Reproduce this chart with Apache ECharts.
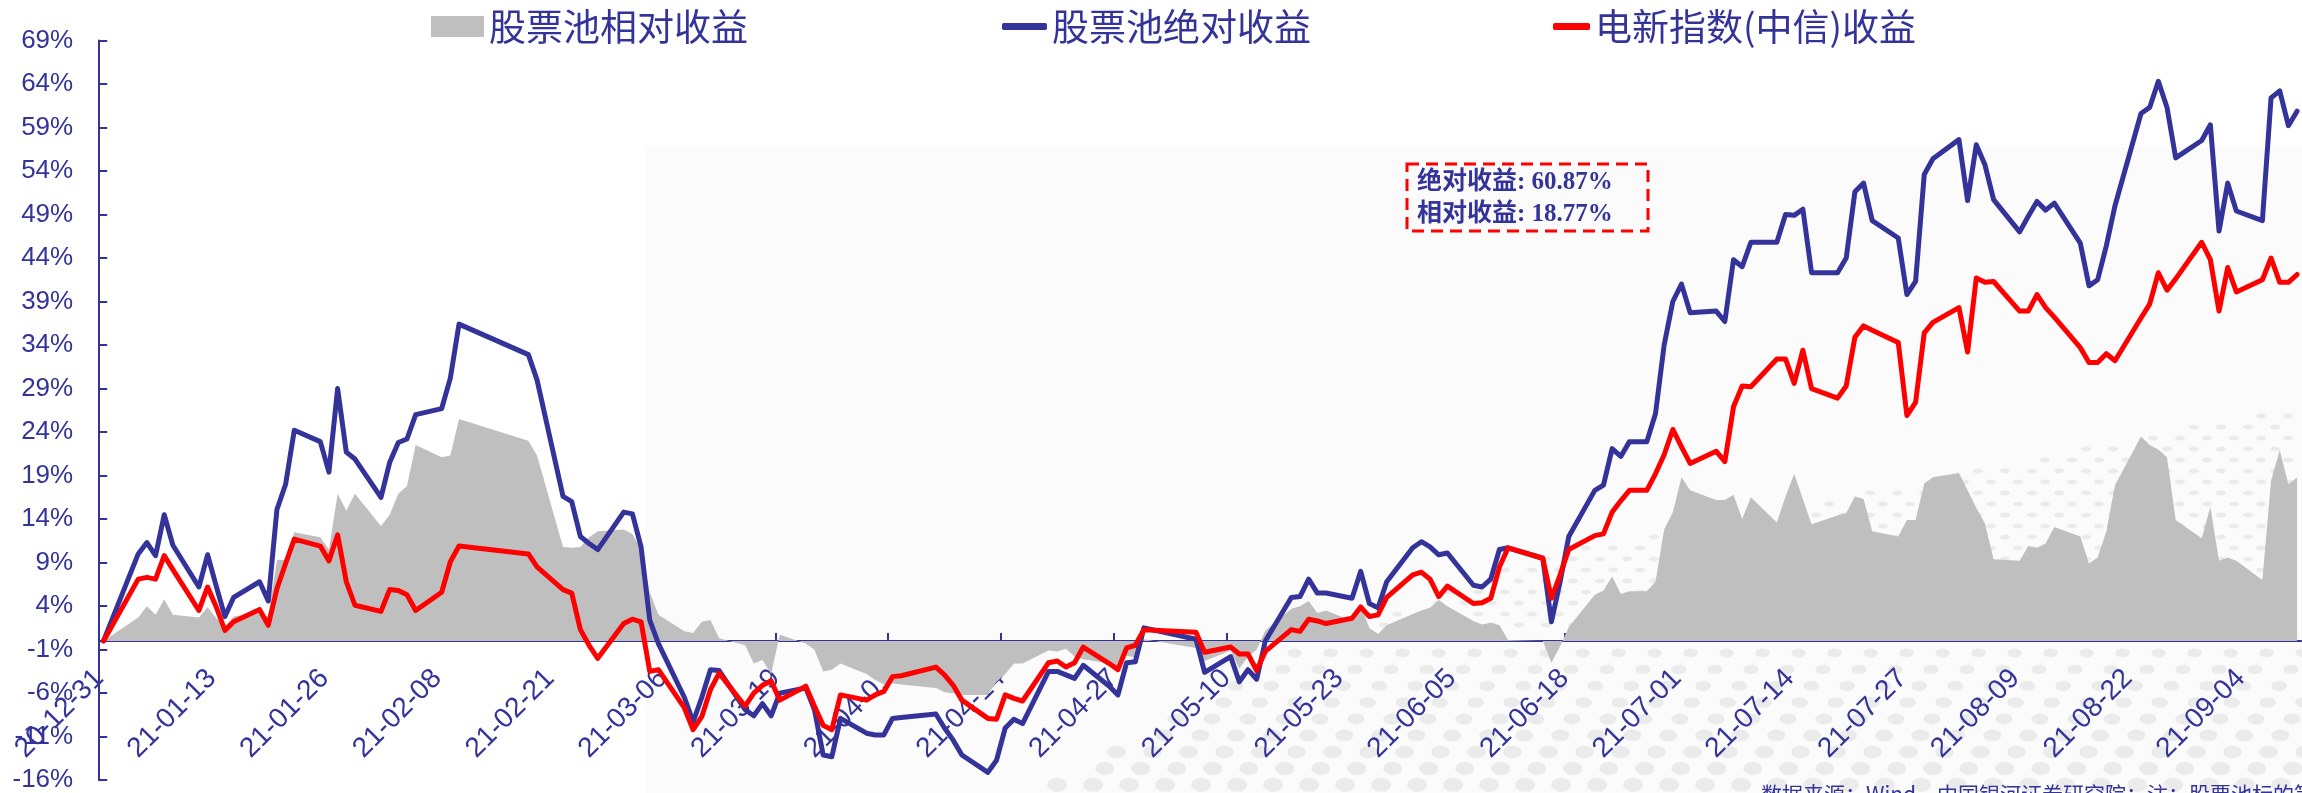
<!DOCTYPE html>
<html>
<head>
<meta charset="utf-8">
<script src="https://cdn.jsdelivr.net/npm/echarts@6/dist/echarts.min.js"></script>
<style>
html,body{margin:0;padding:0;background:#ffffff;}
#chart{width:2302px;height:793px;}
</style>
</head>
<body>
<div id="chart"></div>
<script>
// ---------- data ----------
const seriesNames = ['股票池相对收益', '股票池绝对收益', '电新指数(中信)收益'];

const dates = [
  '2020-12-31',
  '2021-01-04','2021-01-05','2021-01-06','2021-01-07','2021-01-08',
  '2021-01-11','2021-01-12','2021-01-13','2021-01-14','2021-01-15',
  '2021-01-18','2021-01-19','2021-01-20','2021-01-21','2021-01-22',
  '2021-01-25','2021-01-26','2021-01-27','2021-01-28','2021-01-29',
  '2021-02-01','2021-02-02','2021-02-03','2021-02-04','2021-02-05',
  '2021-02-08','2021-02-09','2021-02-10',
  '2021-02-18','2021-02-19',
  '2021-02-22','2021-02-23','2021-02-24','2021-02-25','2021-02-26',
  '2021-03-01','2021-03-02','2021-03-03','2021-03-04','2021-03-05',
  '2021-03-08','2021-03-09','2021-03-10','2021-03-11','2021-03-12',
  '2021-03-15','2021-03-16','2021-03-17','2021-03-18','2021-03-19',
  '2021-03-22','2021-03-23','2021-03-24','2021-03-25','2021-03-26',
  '2021-03-29','2021-03-30','2021-03-31','2021-04-01','2021-04-02',
  '2021-04-06','2021-04-07','2021-04-08','2021-04-09',
  '2021-04-12','2021-04-13','2021-04-14','2021-04-15','2021-04-16',
  '2021-04-19','2021-04-20','2021-04-21','2021-04-22','2021-04-23',
  '2021-04-26','2021-04-27','2021-04-28','2021-04-29','2021-04-30',
  '2021-05-06','2021-05-07',
  '2021-05-10','2021-05-11','2021-05-12','2021-05-13','2021-05-14',
  '2021-05-17','2021-05-18','2021-05-19','2021-05-20','2021-05-21',
  '2021-05-24','2021-05-25','2021-05-26','2021-05-27','2021-05-28',
  '2021-05-31','2021-06-01','2021-06-02','2021-06-03','2021-06-04',
  '2021-06-07','2021-06-08','2021-06-09','2021-06-10','2021-06-11',
  '2021-06-15','2021-06-16','2021-06-17','2021-06-18',
  '2021-06-21','2021-06-22','2021-06-23','2021-06-24','2021-06-25','2021-06-27',
  '2021-06-28','2021-06-29','2021-06-30','2021-07-01','2021-07-02',
  '2021-07-05','2021-07-06','2021-07-07','2021-07-08','2021-07-09',
  '2021-07-12','2021-07-13','2021-07-14','2021-07-15','2021-07-16',
  '2021-07-19','2021-07-20','2021-07-21','2021-07-22','2021-07-23',
  '2021-07-26','2021-07-27','2021-07-28','2021-07-29','2021-07-30',
  '2021-08-02','2021-08-03','2021-08-04','2021-08-05','2021-08-06',
  '2021-08-09','2021-08-10','2021-08-11','2021-08-12','2021-08-13',
  '2021-08-16','2021-08-17','2021-08-18','2021-08-19','2021-08-20',
  '2021-08-23','2021-08-24','2021-08-25','2021-08-26','2021-08-27',
  '2021-08-30','2021-08-31','2021-09-01','2021-09-02','2021-09-03',
  '2021-09-06','2021-09-07','2021-09-08','2021-09-09','2021-09-10'
];

// 股票池绝对收益 (%)
const absReturn = [
  0,
  10.0, 11.3, 9.8, 14.5, 11.0,
  6.2, 9.9, 6.3, 2.8, 5.0,
  6.8, 4.6, 15.1, 18.0, 24.2,
  22.9, 19.4, 29.0, 21.7, 20.9,
  16.5, 20.5, 22.8, 23.2, 26.0,
  26.7, 30.2, 36.4,
  32.9, 30.0,
  16.6, 16.0, 12.0, 11.2, 10.5,
  14.8, 14.6, 10.8, 2.4, -0.3,
  -6.5, -9.3, -6.5, -3.3, -3.4,
  -7.9, -8.6, -7.2, -8.6, -6.0,
  -5.4, -7.9, -13.1, -13.3, -8.9,
  -10.6, -10.8, -10.8, -8.9, -8.8,
  -8.4, -10.0, -11.4, -13.1,
  -15.1, -13.7, -10.0, -9.0, -9.5,
  -3.5, -3.5, -3.9, -4.3, -2.8,
  -5.2, -6.2, -2.5, -2.4, 1.5,
  0.2, -3.6,
  -1.8, -4.7, -3.3, -4.4, 0.0,
  5.0, 5.1, 7.1, 5.5, 5.5,
  4.9, 8.0, 4.3, 3.8, 6.8,
  10.7, 11.4, 10.8, 9.9, 10.1,
  6.4, 6.2, 7.1, 10.5, 10.7,
  9.5, 2.2, 6.8, 12.0,
  17.3, 17.9, 22.1, 21.2, 22.9, 22.9,
  26.1, 34.0, 39.0, 41.0, 37.7,
  37.9, 36.7, 43.8, 43.0, 45.8,
  45.8, 49.0, 48.9, 49.6, 42.3,
  42.3, 44.0, 51.6, 52.6, 48.3,
  46.3, 39.8, 41.3, 53.6, 55.4,
  57.6, 50.6, 57.0, 54.7, 50.7,
  47.0, 48.8, 50.5, 49.5, 50.3,
  45.7, 40.8, 41.5, 45.4, 50.0,
  60.6, 61.3, 64.3, 61.3, 55.5,
  57.5, 59.3, 47.1, 52.6, 49.4,
  48.3, 62.4, 63.2, 59.2, 60.87
];

// 电新指数(中信)收益 (%)
const indexReturn = [
  0,
  7.1, 7.3, 7.1, 9.8, 8.2,
  3.5, 6.2, 3.9, 1.2, 2.2,
  3.6, 1.8, 6.0, 8.9, 11.7,
  10.9, 9.2, 12.2, 6.8, 4.1,
  3.4, 5.9, 5.8, 5.3, 3.5,
  5.6, 9.1, 10.9,
  10.0, 8.5,
  5.9, 5.5, 1.3, -0.5, -2.0,
  2.0, 2.5, 2.2, -3.5, -3.3,
  -7.7, -10.2, -8.7, -5.6, -3.7,
  -7.5, -6.0, -5.1, -4.6, -6.8,
  -5.2, -7.5, -9.7, -10.2, -6.2,
  -6.8, -6.2, -5.8, -4.1, -4.0,
  -3.0, -3.9, -5.1, -6.8,
  -8.9, -9.0, -6.2, -6.6, -6.9,
  -2.5, -2.3, -3.0, -2.5, -0.7,
  -2.6, -3.3, -0.8, -0.5, 1.3,
  1.0, -1.3,
  -0.7, -1.5, -1.5, -3.4, -1.2,
  1.3, 1.1, 2.5, 2.3, 2.0,
  2.6, 3.9, 2.8, 3.0, 5.0,
  7.6, 7.9, 7.1, 5.1, 6.3,
  4.3, 4.4, 4.9, 8.5, 10.7,
  9.5, 4.9, 7.6, 10.5,
  12.1, 12.3, 14.8, 16.1, 17.3, 17.3,
  19.2, 21.4, 24.3, 22.3, 20.4,
  21.8, 20.6, 26.9, 29.3, 29.2,
  32.4, 32.4, 29.6, 33.4, 29.0,
  27.9, 29.3, 34.9, 36.2, 35.7,
  34.3, 25.9, 27.4, 35.4, 36.6,
  38.3, 33.2, 41.7, 41.2, 41.3,
  37.9, 37.9, 39.8, 38.3, 37.2,
  33.7, 32.0, 32.0, 33.0, 32.2,
  37.1, 38.7, 42.3, 40.3, 41.6,
  45.8, 43.8, 37.9, 42.9, 40.1,
  41.5, 44.0, 41.2, 41.2, 42.10
];

// 股票池相对收益 (%)
const relReturn = [
  0,
  2.7, 4.0, 3.0, 4.8, 3.0,
  2.7, 3.9, 2.6, 1.7, 2.8,
  3.2, 2.8, 9.3, 9.3, 12.5,
  11.9, 10.5, 16.9, 15.0, 16.9,
  13.2, 14.5, 16.9, 17.8, 22.5,
  21.1, 21.3, 25.5,
  23.0, 21.3,
  10.8, 10.7, 10.8, 11.9, 12.6,
  12.8, 12.3, 10.5, 5.6, 3.0,
  1.1, 0.9, 2.2, 2.4, 0.3,
  -0.5, -2.6, -2.2, -3.8, 0.7,
  -0.3, -1.0, -3.5, -3.3, -2.6,
  -3.8, -4.5, -5.0, -4.9, -5.0,
  -5.4, -5.9, -6.0, -6.2,
  -6.2, -4.7, -3.8, -2.6, -2.6,
  -1.1, -1.2, -0.9, -1.8, -2.1,
  -2.6, -2.9, -1.7, -1.9, 0.2,
  -0.8, -2.3,
  -1.1, -3.2, -1.8, -1.0, 1.2,
  3.7, 4.0, 4.6, 3.2, 3.5,
  2.3, 4.1, 1.5, 0.8, 1.8,
  3.1, 3.5, 3.8, 4.7, 4.0,
  2.3, 1.9, 2.1, 1.8, 0.1,
  0.0, -2.5, -0.6, 1.6,
  5.3, 5.8, 7.4, 5.4, 5.7, 5.7,
  6.8, 12.8, 14.8, 18.8, 17.3,
  16.2, 16.2, 16.8, 14.0, 16.5,
  13.6, 16.6, 19.2, 16.3, 13.4,
  14.4, 14.7, 16.6, 16.3, 12.6,
  12.0, 13.9, 13.9, 18.1, 18.8,
  19.3, 17.3, 15.3, 13.5, 9.4,
  9.2, 10.9, 10.7, 11.2, 13.1,
  12.0, 8.9, 9.6, 12.6, 17.9,
  23.5, 22.5, 22.0, 21.1, 13.9,
  11.8, 15.4, 9.2, 9.6, 9.2,
  7.0, 18.4, 21.9, 18.0, 18.77
];

// x-axis tick labels (every 13 calendar days from 2020-12-31)
const tickLabels = [
  '20-12-31','21-01-13','21-01-26','21-02-08','21-02-21','21-03-06','21-03-19',
  '21-04-01','21-04-14','21-04-27','21-05-10','21-05-23','21-06-05','21-06-18',
  '21-07-01','21-07-14','21-07-27','21-08-09','21-08-22','21-09-04'
];
const TICK_DAYS = 13;
const AXIS_END_DAY = 254;
const Y_MIN = -16, Y_MAX = 69, Y_STEP = 5;

const sourceNote = '数据来源：Wind，中国银河证券研究院；注：股票池标的等权重';

// ---------- build ----------
const BASE = Date.UTC(2020, 11, 31);
function dayOf(s) {
  const p = s.split('-').map(Number);
  return (Date.UTC(p[0], p[1] - 1, p[2]) - BASE) / 86400000;
}
// date-axis style: each day's point sits in the middle of its day slot
function toPoints(values) {
  return dates.map((d, i) => [dayOf(d) + 0.5, values[i]]);
}

const BLUE = '#333399', RED = '#FF0000', GRAY = '#BFBFBF';
const last = a => a[a.length - 1];
const noteLines = '绝对收益: ' + last(absReturn).toFixed(2) + '%\n' +
                  '相对收益: ' + last(relReturn).toFixed(2) + '%';

const W = 2302, H = 793;
const GRID = { left: 99.2, right: 0.6, top: 40.4, bottom: 12.8 };
const gridH = H - GRID.top - GRID.bottom;
// the date axis crosses the value axis at 0
const zeroY = GRID.top + (Y_MAX / (Y_MAX - Y_MIN)) * gridH;
const xAxisOffset = -((0 - Y_MIN) / (Y_MAX - Y_MIN)) * gridH;

// faint decorative dotted backdrop (lower right of the picture)
const dots = [];
(function () {
  const dotColor = '#ebebeb';
  // above the zero line: small dots
  let r = 0;
  for (let y = 405; y < zeroY - 8; y += 11, r++) {
    for (let x = 1330 + (r % 2) * 13; x < W; x += 27) {
      const top = x < 1526 ? 640 - (x - 1330) * 0.41 : 560 - (x - 1526) * 0.2;
      if (y < top) continue;
      dots.push({ type: 'ellipse', z: -9, silent: true,
        shape: { cx: x, cy: y, rx: 5, ry: 2.5 }, style: { fill: dotColor } });
    }
  }
  // below the zero line: larger dots
  r = 0;
  for (let y = zeroY + 12; y < H + 8; y += 16.5, r++) {
    const left = 1300 - (y - 650) * 1.8;
    for (let x = left + (r % 2) * 18; x < W + 10; x += 36) {
      const k = (y - zeroY) / (H - zeroY);
      dots.push({ type: 'ellipse', z: -9, silent: true,
        shape: { cx: x, cy: y, rx: 7 + 3 * k, ry: 4 + 3 * k }, style: { fill: dotColor } });
    }
  }
})();

const legendText = { color: BLUE, fontSize: 37, fontFamily: '"Noto Sans CJK SC", sans-serif' };

const chart = echarts.init(document.getElementById('chart'), null, { renderer: 'canvas' });
chart.setOption({
  animation: false,
  backgroundColor: '#ffffff',
  textStyle: { fontFamily: '"Liberation Sans", "Noto Sans CJK SC", sans-serif' },
  grid: Object.assign({ containLabel: false, outerBoundsMode: 'none' }, GRID),
  legend: [
    { data: [{ name: seriesNames[0], icon: 'rect' }], left: 431, top: 8, itemWidth: 53, itemHeight: 21,
      textStyle: legendText, selectedMode: false, padding: 0 },
    { data: [{ name: seriesNames[1], icon: 'roundRect' }], left: 1002, top: 8, itemWidth: 45, itemHeight: 7,
      textStyle: legendText, selectedMode: false, padding: 0 },
    { data: [{ name: seriesNames[2], icon: 'roundRect' }], left: 1553, top: 8, itemWidth: 37, itemHeight: 7,
      textStyle: legendText, selectedMode: false, padding: 0 }
  ],
  xAxis: {
    type: 'value', min: 0, max: AXIS_END_DAY, interval: TICK_DAYS,
    position: 'bottom', offset: xAxisOffset,
    axisLine: { show: true, onZero: false, lineStyle: { color: BLUE, width: 2 } },
    axisTick: { show: true, inside: true, length: 8, lineStyle: { color: BLUE, width: 2 } },
    axisLabel: {
      show: true, rotate: 45, margin: 33, fontSize: 28, color: BLUE,
      showMaxLabel: false, showMinLabel: true, hideOverlap: false,
      formatter: v => {
        const k = Math.round(v / TICK_DAYS);
        return Math.abs(v - k * TICK_DAYS) < 1e-6 && tickLabels[k] ? tickLabels[k] : '';
      }
    },
    splitLine: { show: false }
  },
  yAxis: {
    type: 'value', min: Y_MIN, max: Y_MAX, interval: Y_STEP,
    axisLine: { show: true, lineStyle: { color: BLUE, width: 2 } },
    axisTick: { show: true, inside: true, length: 8, lineStyle: { color: BLUE, width: 2 } },
    axisLabel: { show: true, margin: 26, fontSize: 26, color: BLUE, formatter: '{value}%', hideOverlap: false },
    splitLine: { show: false }
  },
  series: [
    { name: seriesNames[0], type: 'line', data: toPoints(relReturn), symbol: 'none', color: GRAY,
      lineStyle: { width: 0 }, areaStyle: { color: GRAY, opacity: 1 }, z: 1 },
    { name: seriesNames[1], type: 'line', data: toPoints(absReturn), symbol: 'none', color: BLUE,
      lineStyle: { width: 5, color: BLUE, join: 'round', cap: 'round' }, z: 3 },
    { name: seriesNames[2], type: 'line', data: toPoints(indexReturn), symbol: 'none', color: RED,
      lineStyle: { width: 5, color: RED, join: 'round', cap: 'round' }, z: 4 }
  ],
  graphic: [
    { type: 'rect', z: -10, silent: true, shape: { x: 645, y: 147, width: W - 645, height: H - 147 },
      style: { fill: '#fbfbfb' } }
  ].concat(dots, [
    { type: 'rect', z: 100, silent: true, shape: { x: 1407, y: 164, width: 241, height: 67 },
      style: { fill: 'none', stroke: RED, lineWidth: 3, lineDash: [12, 7] } },
    { type: 'text', z: 101, silent: true, x: 1417, y: 167,
      style: { text: noteLines, fill: BLUE, lineHeight: 32, textVerticalAlign: 'top',
               font: 'bold 25px "Liberation Serif", "Noto Sans CJK SC", serif' } },
    { type: 'text', z: 101, silent: true, x: 1761, y: 784,
      style: { text: sourceNote, fill: BLUE, textVerticalAlign: 'top',
               font: '21px "Noto Sans CJK SC", sans-serif' } }
  ])
});
</script>
</body>
</html>
